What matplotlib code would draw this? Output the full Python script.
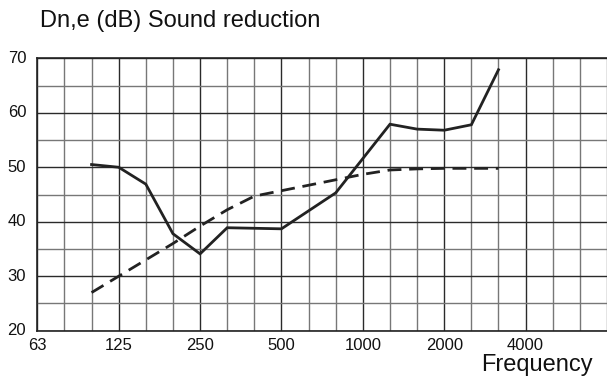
import matplotlib
matplotlib.use("Agg")
import matplotlib.pyplot as plt

plt.rcParams['font.family'] = ['Liberation Sans', 'DejaVu Sans']

# third-octave bands (x positions are band indices)
bands = ['63', '80', '100', '125', '160', '200', '250', '315', '400', '500',
         '630', '800', '1000', '1250', '1600', '2000', '2500', '3150',
         '4000', '5000', '6300', '8000']
octave_labels = ['63', '125', '250', '500', '1000', '2000', '4000']

measured_bands = ['100', '125', '160', '200', '250', '315', '400', '500',
                  '630', '800', '1000', '1250', '1600', '2000', '2500', '3150']
measured = [50.5, 50.0, 46.9, 37.8, 34.1, 38.9, 38.8, 38.7,
            42.0, 45.3, 51.6, 57.9, 57.0, 56.8, 57.8, 67.9]
reference = [27.0, 30.0, 33.0, 36.0, 39.2, 42.2, 44.7, 45.7,
             46.7, 47.7, 48.7, 49.5, 49.7, 49.8, 49.8, 49.8]

xs = [bands.index(b) for b in measured_bands]

fig = plt.figure(figsize=(6.07, 3.79), dpi=100)
ax = fig.add_axes([37.3 / 607, 48.3 / 379, 1 - 37.3 / 607, 272.4 / 379])

ax.plot(xs, measured, color='#222222', lw=2.0, solid_joinstyle='miter', zorder=3)
ax.plot(xs, reference, color='#222222', lw=2.0, dashes=(5, 2.8), zorder=3)

ax.set_xlim(0, 20.95)
ax.set_ylim(20, 70)
ax.set_xticks([bands.index(b) for b in octave_labels])
ax.set_xticklabels(octave_labels)
ax.set_xticks(range(len(bands)), minor=True)
ax.set_yticks(range(20, 71, 10))
ax.set_yticks(range(25, 70, 10), minor=True)

ax.grid(which='major', color='#2a2a2a', lw=1.0)
ax.grid(which='minor', color='#777777', lw=1.0)
ax.tick_params(which='both', length=0)
ax.tick_params(axis='x', pad=5, labelsize=12, colors='#111111')
ax.tick_params(axis='y', pad=8, labelsize=12, colors='#111111')
for lab in ax.get_yticklabels():
    lab.set_verticalalignment('center')

for s in ['left', 'bottom', 'top']:
    ax.spines[s].set_color('#222222')
    ax.spines[s].set_linewidth(1.2)
ax.spines['right'].set_visible(False)

fig.text(40 / 607, 1 - 21 / 379, 'Dn,e (dB) Sound reduction', fontsize=17,
         ha='left', va='center', color='#111111')
fig.text(593 / 607, 1 - 371 / 379, 'Frequency', fontsize=17,
         ha='right', va='baseline', color='#111111')

fig.savefig('out.png', dpi=100)
